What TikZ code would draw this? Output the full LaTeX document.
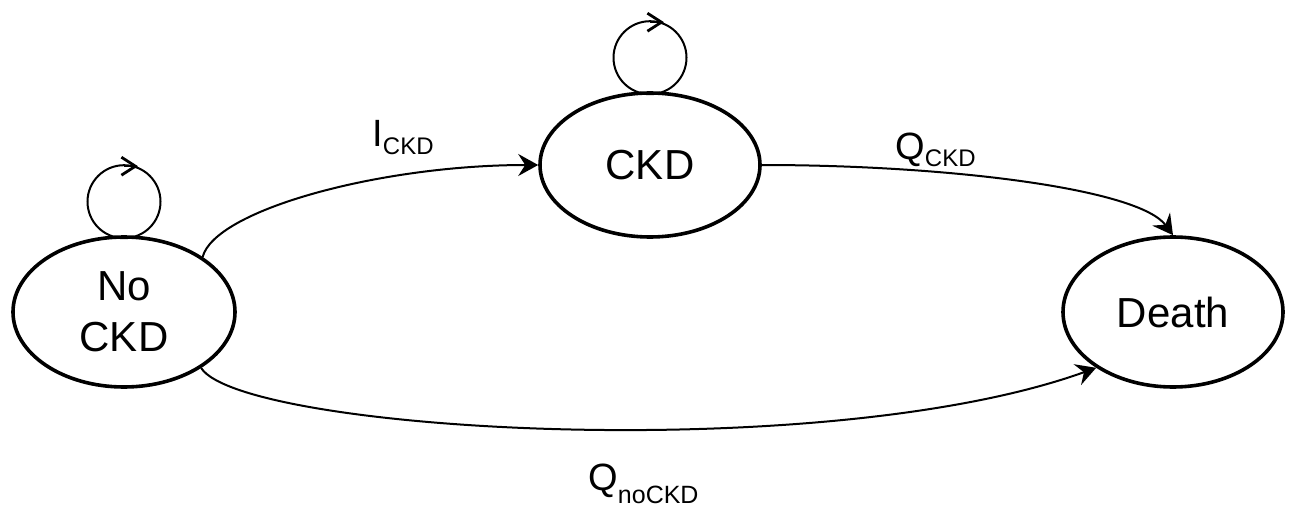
\documentclass[tikz,border=0pt]{standalone}
\usepackage{fontspec}
\setmainfont{Liberation Sans}
\usetikzlibrary{shapes.geometric,arrows.meta}
\begin{document}
\begin{tikzpicture}[x=0.5pt,y=-0.5pt,
  state/.style={ellipse,draw,line width=1.8pt,inner sep=0pt,align=center,
    font=\fontsize{21}{25.5}\selectfont},
  trans/.style={line width=1pt,-{Stealth[length=10pt,width=11pt,inset=3.5pt]}},
  loopline/.style={line width=1pt},
  looptip/.style={line width=1.2pt,-{Straight Barb[length=7pt,width=9pt,line width=1.4pt]}},
  lbl/.style={anchor=base west,inner sep=0pt,font=\fontsize{19}{21}\selectfont}]
\useasboundingbox (0,0) rectangle (1290,508);

\node[state,minimum width=111pt,minimum height=75pt] (nock) at (124,312) {No\\CKD};
\node[state,minimum width=110pt,minimum height=72pt] (ckd) at (650,165) {CKD};
\node[state,minimum width=110pt,minimum height=75pt] (death) at (1173,312) {Death};

% self loops
\draw[loopline] (nock.north) ++(0,3) arc[start angle=-90,end angle=270,radius=18.25pt];
\path (nock.north) ++(0,-70) ++(14,1) coordinate (t1) ++(-14,0) coordinate (s1);
\draw[looptip] (s1) -- (t1);
\draw[loopline] (ckd.north) ++(0,3) arc[start angle=-90,end angle=270,radius=18.25pt];
\path (ckd.north) ++(0,-70) ++(14,1) coordinate (t2) ++(-14,0) coordinate (s2);
\draw[looptip] (s2) -- (t2);

% transitions
\draw[trans] (nock.35) .. controls (215,210) and (380,165) .. (ckd.west);
\draw[trans] (ckd.east) .. controls (950,165) and (1139,189) .. (death.north);
\draw[trans] (nock.-36) .. controls (243,432) and (824,466) .. (death.216);

% labels
\node[lbl] (lI) at (372,147) {I\raisebox{-4pt}{\fontsize{12}{14}\selectfont CKD}};
\node[lbl] (lQ) at (895,159) {Q\raisebox{-4pt}{\fontsize{12}{14}\selectfont CKD}};
\node[lbl] (lQn) at (588,490) {Q\raisebox{-6.5pt}{\fontsize{12.5}{14}\selectfont noCKD}};
\end{tikzpicture}
\end{document}
